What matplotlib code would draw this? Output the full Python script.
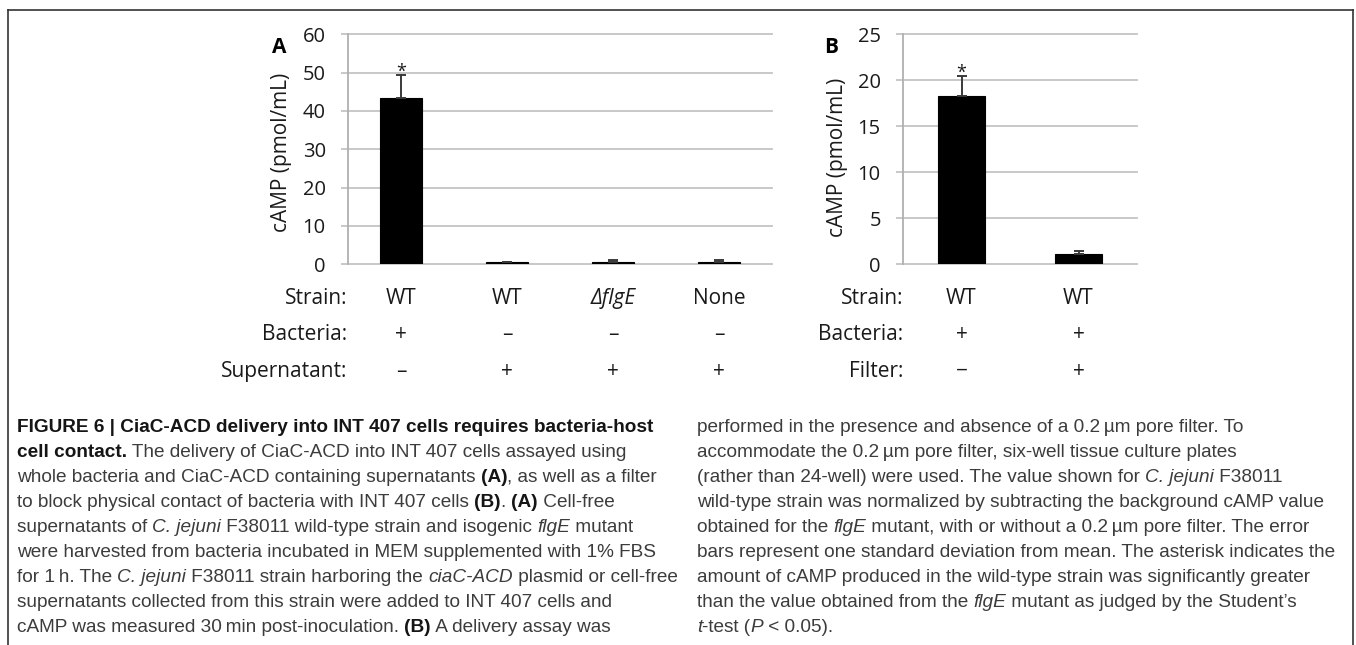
import matplotlib
matplotlib.use("Agg")
import matplotlib.pyplot as plt
import matplotlib.transforms as mtransforms
from matplotlib import font_manager
from matplotlib.lines import Line2D
import numpy as np

# -------------------------------
# Data
# -------------------------------
# Panel A: whole bacteria vs. supernatants
strain_a = ['WT', 'WT', 'ΔflgE', 'None']
bacteria_a = ['+', '–', '–', '–']
supernatant_a = ['–', '+', '+', '+']
camp_a = [43.3, 0.6, 0.6, 0.6]
err_a = [6.1, 0.1, 0.4, 0.4]
signif_a = [True, False, False, False]

# Panel B: with / without 0.2 um filter
strain_b = ['WT', 'WT']
bacteria_b = ['+', '+']
filter_b = ['−', '+']
camp_b = [18.3, 1.1]
err_b = [2.2, 0.35]
signif_b = [True, False]

# caption, one list of (text, kind) runs per printed line; kind: r=regular, b=bold, i=italic
caption_left = [
    [('FIGURE 6 | CiaC-ACD delivery into INT 407 cells requires bacteria-host', 'b')],
    [('cell contact.', 'b'), (' The delivery of CiaC-ACD into INT 407 cells assayed using', 'r')],
    [('whole bacteria and CiaC-ACD containing supernatants ', 'r'), ('(A)', 'b'), (', as well as a filter', 'r')],
    [('to block physical contact of bacteria with INT 407 cells ', 'r'), ('(B)', 'b'), ('. ', 'r'),
     ('(A)', 'b'), (' Cell-free', 'r')],
    [('supernatants of ', 'r'), ('C. jejuni', 'i'), (' F38011 wild-type strain and isogenic ', 'r'),
     ('flgE', 'i'), (' mutant', 'r')],
    [('were harvested from bacteria incubated in MEM supplemented with 1% FBS', 'r')],
    [('for 1\u2009h. The ', 'r'), ('C. jejuni', 'i'), (' F38011 strain harboring the ', 'r'),
     ('ciaC-ACD', 'i'), (' plasmid or cell-free', 'r')],
    [('supernatants collected from this strain were added to INT 407 cells and', 'r')],
    [('cAMP was measured 30\u2009min post-inoculation. ', 'r'), ('(B)', 'b'), (' A delivery assay was', 'r')],
]
caption_right = [
    [('performed in the presence and absence of a 0.2\u2009µm pore filter. To', 'r')],
    [('accommodate the 0.2\u2009µm pore filter, six-well tissue culture plates', 'r')],
    [('(rather than 24-well) were used. The value shown for ', 'r'), ('C. jejuni', 'i'), (' F38011', 'r')],
    [('wild-type strain was normalized by subtracting the background cAMP value', 'r')],
    [('obtained for the ', 'r'), ('flgE', 'i'), (' mutant, with or without a 0.2\u2009µm pore filter. The error', 'r')],
    [('bars represent one standard deviation from mean. The asterisk indicates the', 'r')],
    [('amount of cAMP produced in the wild-type strain was significantly greater', 'r')],
    [('than the value obtained from the ', 'r'), ('flgE', 'i'), (' mutant as judged by the Student’s', 'r')],
    [('t', 'i'), ('-test (', 'r'), ('P', 'i'), (' < 0.05).', 'r')],
]

# -------------------------------
# Fonts
# -------------------------------
installed = {f.name for f in font_manager.fontManager.ttflist}
chart_font = ['Open Sans', 'DejaVu Sans'] if 'Open Sans' in installed else ['DejaVu Sans']
cap_font = ['Liberation Sans', 'DejaVu Sans']
plt.rcParams['font.family'] = chart_font

W, H = 1356, 645
fig = plt.figure(figsize=(W / 100, H / 100), dpi=100)
fig.patch.set_facecolor('white')


def fx(px):
    return px / W


def fy(py):
    return 1 - py / H


def add_panel(left, right, top=34.3, bottom=264.3):
    return fig.add_axes([fx(left), fy(bottom), (right - left) / W, (bottom - top) / H])


def style_panel(ax, ymax, step, nbars):
    ax.set_xlim(-0.5, nbars - 0.5)
    ax.set_ylim(0, ymax)
    ax.set_yticks(np.arange(0, ymax + 1, step))
    ax.grid(axis='y', color='#c4c4c4', lw=1.3)
    ax.set_axisbelow(True)
    for line in ax.get_ygridlines():
        line.set_clip_on(False)
    for s in ['top', 'right', 'bottom']:
        ax.spines[s].set_visible(False)
    ax.spines['left'].set_color('#b0b0b0')
    ax.spines['left'].set_linewidth(1.3)
    ax.tick_params(axis='y', length=5, width=1.3, color='#c4c4c4', pad=11,
                   labelsize=14.5, labelcolor='#1a1a1a')
    ax.tick_params(axis='x', bottom=False, labelbottom=False)


def draw_bars(ax, vals, errs, signif):
    x = np.arange(len(vals))
    ax.bar(x, vals, width=0.4, color='black', edgecolor='black', lw=0.8, zorder=3)
    ax.errorbar(x, vals, yerr=[np.zeros(len(errs)), errs], fmt='none', ecolor='#3a3a3a',
                elinewidth=1.4, capsize=3.5, capthick=1.4, zorder=4)
    for i, s in enumerate(signif):
        if s:
            ax.annotate('*', (x[i], vals[i] + errs[i]), xytext=(0, -1.5), textcoords='offset points',
                        ha='center', va='baseline', fontsize=13, color='#1a1a1a')


def draw_rows(ax, label_right, rows):
    trans = mtransforms.blended_transform_factory(ax.transData, fig.transFigure)
    for label, values, base in rows:
        fig.text(fx(label_right), fy(base), label, ha='right', va='baseline',
                 fontsize=15, color='#1a1a1a')
        for i, v in enumerate(values):
            ax.text(i, fy(base), v, transform=trans, ha='center', va='baseline', fontsize=15,
                    color='#1a1a1a', style='italic' if v.startswith('Δ') else 'normal')


# -------------------------------
# Panel A
# -------------------------------
axA = add_panel(348, 772)
style_panel(axA, 60, 10, len(camp_a))
draw_bars(axA, camp_a, err_a, signif_a)
axA.text(-0.156, 0.485, 'cAMP (pmol/mL)', transform=axA.transAxes, rotation=90,
         ha='center', va='center', fontsize=15, color='#1a1a1a')
fig.text(fx(279), fy(53.3), 'A', ha='center', va='baseline', fontsize=15, weight='bold')
draw_rows(axA, 347, [('Strain:', strain_a, 304), ('Bacteria:', bacteria_a, 340),
                     ('Supernatant:', supernatant_a, 377)])

# -------------------------------
# Panel B
# -------------------------------
axB = add_panel(903, 1137)
style_panel(axB, 25, 5, len(camp_b))
draw_bars(axB, camp_b, err_b, signif_b)
axB.text(-0.278, 0.464, 'cAMP (pmol/mL)', transform=axB.transAxes, rotation=90,
         ha='center', va='center', fontsize=15, color='#1a1a1a')
fig.text(fx(831), fy(53), 'B', ha='center', va='baseline', fontsize=15, weight='bold')
draw_rows(axB, 903, [('Strain:', strain_b, 303.5), ('Bacteria:', bacteria_b, 340),
                     ('Filter:', filter_b, 377)])

# -------------------------------
# Frame
# -------------------------------
frame_kw = dict(color='#333333', lw=1.2, transform=fig.transFigure)
fig.add_artist(Line2D([fx(8), fx(1353)], [fy(9.5), fy(9.5)], **frame_kw))
fig.add_artist(Line2D([fx(8), fx(8)], [fy(9.5), fy(H + 2)], **frame_kw))
fig.add_artist(Line2D([fx(1353), fx(1353)], [fy(9.5), fy(H + 2)], **frame_kw))

# -------------------------------
# Caption
# -------------------------------
renderer = fig.canvas.get_renderer()
KIND = {'r': ('normal', 'normal', '#3c3c3c'),
        'b': ('bold', 'normal', '#151515'),
        'i': ('normal', 'italic', '#3c3c3c')}


def run_width(s, size, kind):
    weight, style, _ = KIND[kind]
    kw = dict(fontsize=size, family=cap_font, weight=weight, style=style)
    t1 = fig.text(0, 0, '|' + s + '|', **kw)
    t2 = fig.text(0, 0, '||', **kw)
    w = t1.get_window_extent(renderer).width - t2.get_window_extent(renderer).width
    t1.remove()
    t2.remove()
    return w


# size the caption so that the longest left line spans the same width as in the figure
cap_size = 10 * 646 / run_width(caption_left[5][0][0], 10, 'r')


def draw_caption(lines, x0, base0, step=25):
    for k, runs in enumerate(lines):
        x = x0
        for s, kind in runs:
            weight, style, color = KIND[kind]
            fig.text(fx(x), fy(base0 + k * step), s, ha='left', va='baseline', fontsize=cap_size,
                     family=cap_font, weight=weight, style=style, color=color)
            x += run_width(s, cap_size, kind)


draw_caption(caption_left, 17, 432)
draw_caption(caption_right, 697, 432)

fig.savefig('out.png', dpi=100, facecolor='white')
